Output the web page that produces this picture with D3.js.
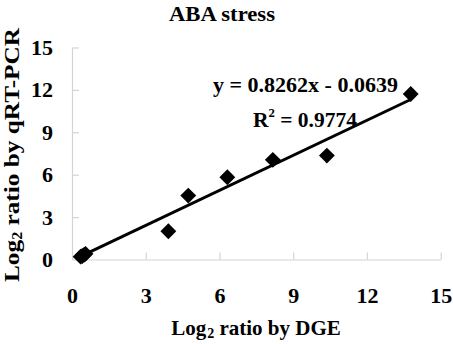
<!DOCTYPE html>
<html><head><meta charset="utf-8">
<script src="https://cdn.jsdelivr.net/npm/d3@7"></script>
<style>body{margin:0;background:#fff}svg{display:block}text{font-family:"Liberation Serif","Times New Roman",serif;font-weight:bold;fill:#000}</style>
</head><body><div id="c"></div>
<script>
const chartTitle = "ABA stress";
const dgeValues  = [0.35, 0.42, 0.50, 0.55, 3.92, 4.73, 6.32, 8.17, 10.37, 13.78];
const qpcrValues = [0.20, 0.25, 0.35, 0.40, 2.00, 4.52, 5.82, 7.05, 7.35, 11.71];
const xTicks = [0, 3, 6, 9, 12, 15];
const yTicks = [0, 3, 6, 9, 12, 15];
const slope = 0.8262, intercept = -0.0639;
const equationLabel = "y = 0.8262x - 0.0639";
const r2Value = "0.9774";

const W = 453, H = 344;
const svg = d3.select("#c").append("svg").attr("width", W).attr("height", H);
const x = d3.scaleLinear().domain([0, 15]).range([72, 440.7]);
const y = d3.scaleLinear().domain([0, 15]).range([259.5, 47.5]);
const axisColor = "#d4d4d4";

// x axis (ticks pointing up)
const gx = svg.append("g").attr("transform", `translate(0,${y(0)})`)
  .call(d3.axisBottom(x).tickValues(xTicks).tickSizeInner(-7).tickSizeOuter(0).tickFormat(d3.format("d")));
gx.select(".domain").attr("stroke", axisColor).attr("stroke-width", 1.2);
gx.selectAll(".tick line").attr("stroke", axisColor).attr("stroke-width", 1.2);
gx.selectAll(".tick text").attr("y", 36).attr("dy", "0.32em").attr("font-size", 22);

// y axis (ticks pointing right)
const gy = svg.append("g").attr("transform", `translate(${x(0)},0)`)
  .call(d3.axisLeft(y).tickValues(yTicks).tickSizeInner(-7).tickSizeOuter(0).tickFormat(d3.format("d")));
gy.select(".domain").attr("stroke", axisColor).attr("stroke-width", 1.2);
gy.selectAll(".tick line").attr("stroke", axisColor).attr("stroke-width", 1.2);
gy.selectAll(".tick text").attr("x", -19).attr("font-size", 22);
gy.selectAll(".tick").filter(d => d === 0).select("line").remove();
gx.selectAll(".tick").filter(d => d === 0).select("line").remove();

// trendline
const xMin = d3.min(dgeValues), xMax = d3.max(dgeValues);
svg.append("line")
  .attr("x1", x(xMin)).attr("y1", y(slope * xMin + intercept))
  .attr("x2", x(xMax)).attr("y2", y(slope * xMax + intercept))
  .attr("stroke", "#000").attr("stroke-width", 3);

// points
const diamond = d3.symbol().type(d3.symbolDiamond2).size(160);
svg.append("g").selectAll("path").data(dgeValues.map((d, i) => [d, qpcrValues[i]]))
  .join("path").attr("d", diamond)
  .attr("transform", d => `translate(${x(d[0])},${y(d[1])})`)
  .attr("fill", "#000");

// title
svg.append("text").attr("x", 222).attr("y", 20.5).attr("text-anchor", "middle")
  .attr("font-size", 22).attr("textLength", 106).attr("lengthAdjust", "spacingAndGlyphs").text(chartTitle);

// equation
svg.append("text").attr("x", 305.5).attr("y", 91.5).attr("text-anchor", "middle")
  .attr("font-size", 22).attr("textLength", 185).attr("lengthAdjust", "spacingAndGlyphs").text(equationLabel);
const r2 = svg.append("text").attr("x", 305).attr("y", 126.5).attr("text-anchor", "middle").attr("font-size", 22)
  .attr("textLength", 104).attr("lengthAdjust", "spacingAndGlyphs");
r2.append("tspan").text("R");
r2.append("tspan").attr("font-size", 13).attr("dy", -10).text("2");
r2.append("tspan").attr("dy", 10).text(" = " + r2Value);

// x title
const xt = svg.append("text").attr("x", 256).attr("y", 335).attr("text-anchor", "middle").attr("font-size", 21);
xt.append("tspan").text("Log");
xt.append("tspan").attr("font-size", 14).attr("dx", 1).attr("dy", 3).text("2");
xt.append("tspan").attr("dy", -3).text(" ratio by DGE");

// y title
const yt = svg.append("text").attr("transform", "translate(18.5,155) rotate(-90)").attr("text-anchor", "middle").attr("font-size", 22)
  .attr("textLength", 254).attr("lengthAdjust", "spacingAndGlyphs");
yt.append("tspan").text("Log");
yt.append("tspan").attr("font-size", 14).attr("dy", 3).text("2");
yt.append("tspan").attr("dy", -3).text(" ratio by qRT-PCR");
</script></body></html>
